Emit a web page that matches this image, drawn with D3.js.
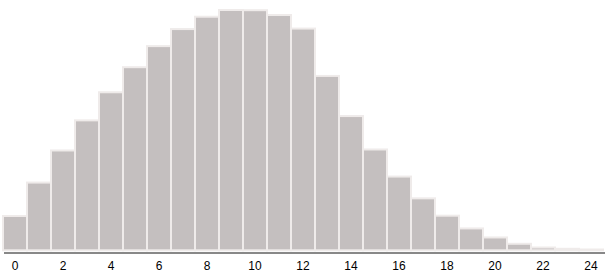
<!DOCTYPE html>
<meta charset="utf-8">
<style>
    body { margin: 0; background: #fff; }
    .bar {
        fill: #c4bfbf;
        stroke: #efebea;
        stroke-width: 2;
    }
    .axis path {
        stroke: #888;
        stroke-width: 2;
        fill: none;
    }
    .axis text {
        font: 12px "Liberation Sans", Arial, sans-serif;
        fill: #000;
    }
</style>
<body>
<svg width="613" height="280"></svg>
<script src="https://d3js.org/d3.v7.min.js"></script>
<script>
    // bins 0..24 and their heights
    var bins = d3.range(0, 25);
    var counts = [34.2, 67.5, 99.5, 129.5, 157.5, 182.5, 203.5, 220.5, 232.8, 239.5,
                  239.3, 234.5, 221, 173.8, 133.8, 100.5, 73.5, 51.8, 34.5, 21.8,
                  12.8, 6.5, 2.8, 1.5, 0.8];
    var tickLabels = [0, 2, 4, 6, 8, 10, 12, 14, 16, 18, 20, 22, 24];

    var svg = d3.select("svg");

    var x = d3.scaleBand().domain(bins).range([3, 603]).padding(0);
    var y = d3.scaleLinear().domain([0, 240]).range([250.3, 9.5]);

    svg.selectAll(".bar")
        .data(counts)
      .enter().append("rect")
        .attr("class", "bar")
        .attr("x", function (d, i) { return x(bins[i]); })
        .attr("width", x.bandwidth())
        .attr("y", function (d) { return y(d); })
        .attr("height", function (d) { return y(0) - y(d); });

    var xAxis = d3.axisBottom(x)
        .tickValues(tickLabels)
        .tickSize(0)
        .tickPadding(8);

    var g = svg.append("g")
        .attr("class", "axis")
        .attr("transform", "translate(0,253)")
        .call(xAxis);
    g.select(".domain").attr("d", "M4,0H605");
    g.selectAll("text").attr("font-family", null).attr("font-size", null);
</script>
</body>
